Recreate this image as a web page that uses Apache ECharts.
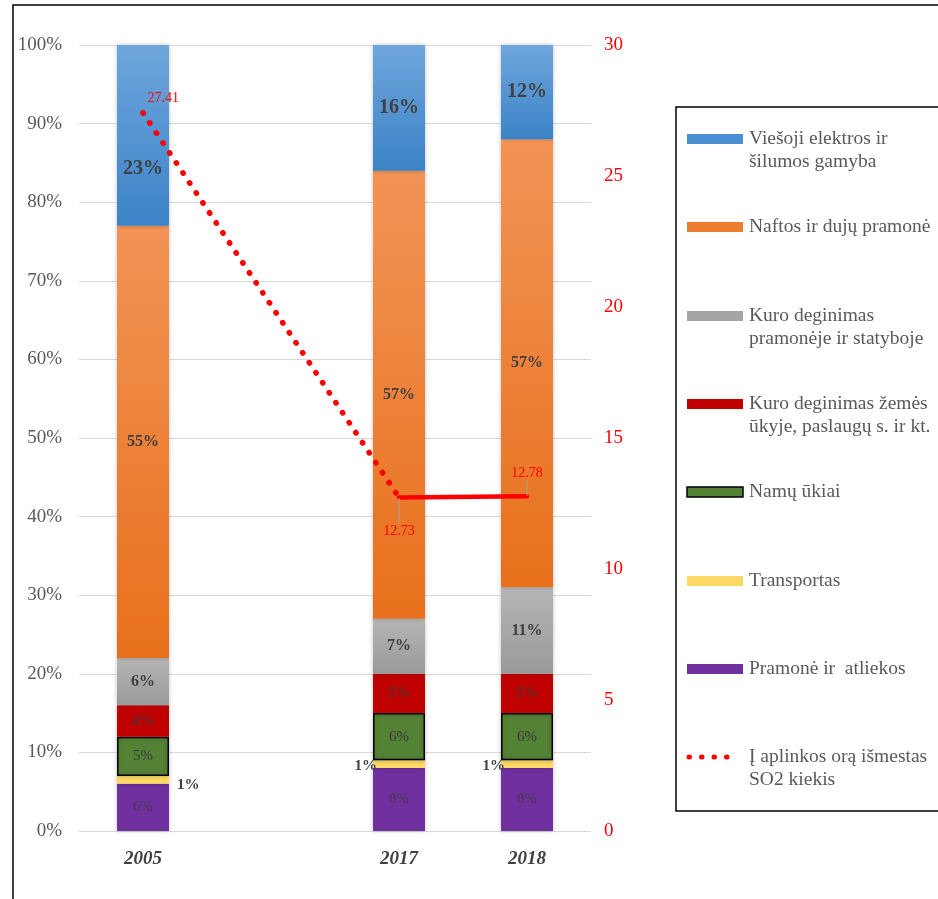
<!DOCTYPE html>
<html>
<head>
<meta charset="utf-8">
<script src="https://cdn.jsdelivr.net/npm/echarts@6/dist/echarts.min.js"></script>
<style>
  html, body { margin: 0; padding: 0; background: #ffffff; }
  #chart { width: 938px; height: 899px; }
</style>
</head>
<body>
<div id="chart"></div>
<script>
// Years on the category axis (an empty slot keeps the gap between 2005 and 2017)
const categories = ['2005', '', '2017', '2018'];

// Shares of SO2 emissions by sector, % (bottom of the stack first)
const pramoneAtliekos = [6, null, 8, 8];
const transportas     = [1, null, 1, 1];
const namuUkiai       = [5, null, 6, 6];
const kuroZemesUkyje  = [4, null, 5, 5];
const kuroPramoneje   = [6, null, 7, 11];
const naftosDuju      = [55, null, 57, 57];
const viesojiElektros = [23, null, 16, 12];

// Total SO2 emitted into ambient air (right axis)
const so2Kiekis = [27.41, null, 12.73, 12.78];

const sectorNames = [
  'Pramonė ir  atliekos',
  'Transportas',
  'Namų ūkiai',
  'Kuro deginimas žemės ūkyje, paslaugų s. ir kt.',
  'Kuro deginimas pramonėje ir statyboje',
  'Naftos ir dujų pramonė',
  'Viešoji elektros ir šilumos gamyba'
];
const so2Name = 'Į aplinkos orą išmestas SO2 kiekis';

// Legend captions, top to bottom, as they wrap in the box
const legendCaptions = [
  'Viešoji elektros ir\nšilumos gamyba',
  'Naftos ir dujų pramonė',
  'Kuro deginimas\npramonėje ir statyboje',
  'Kuro deginimas žemės\nūkyje, paslaugų s. ir kt.',
  'Namų ūkiai',
  'Transportas',
  'Pramonė ir  atliekos',
  'Į aplinkos orą išmestas\nSO2 kiekis'
];

const serif = '"Liberation Serif", "DejaVu Serif", serif';
const labelDark = '#404040';

function vgrad(top, bottom) {
  return new echarts.graphic.LinearGradient(0, 0, 0, 1, [
    { offset: 0, color: top }, { offset: 1, color: bottom }
  ]);
}

const sectorStyles = [
  { fill: '#7030a0', label: { fontSize: 15, fontWeight: 'normal', color: '#4a3a55' } },
  { fill: '#ffd966', label: { fontSize: 15, fontWeight: 'bold', color: labelDark } },
  { fill: '#548235', border: '#000000', label: { fontSize: 15, fontWeight: 'normal', color: '#3a3a3a' } },
  { fill: '#c00000', label: { fontSize: 15, fontWeight: 'bold', color: '#5a2a2a' } },
  { fill: vgrad('#b5b5b5', '#9a9a9a'), label: { fontSize: 16, fontWeight: 'bold', color: labelDark } },
  { fill: vgrad('#f29456', '#e8701c'), label: { fontSize: 16, fontWeight: 'bold', color: labelDark } },
  { fill: vgrad('#6fa6dc', '#3b83c7'), label: { fontSize: 20, fontWeight: 'bold', color: labelDark } }
];
// Legend swatches, top to bottom
const legendColors = ['#4a8fd2', '#ed7d31', '#a5a5a5', '#c00000', '#548235', '#ffd966', '#7030a0'];

const sectorData = [pramoneAtliekos, transportas, namuUkiai, kuroZemesUkyje, kuroPramoneje, naftosDuju, viesojiElektros];

const barSeries = sectorData.map((values, s) => {
  const st = sectorStyles[s];
  const data = values.map((v, i) => {
    if (v === null) return null;
    const item = { value: v };
    if (s === 1) {
      // the thin transport slice is labelled beside the bar
      item.label = i === 0
        ? { position: 'right', distance: 8, offset: [0, 5] }
        : { position: 'left', distance: -4, offset: [0, 2] };
    }
    if (s === 6 && i === 0) {
      item.label = { offset: [0, 33] };
    }
    return item;
  });
  return {
    name: sectorNames[s],
    type: 'bar',
    stack: 'shares',
    barWidth: 52,
    data: data,
    itemStyle: {
      color: st.fill,
      borderColor: st.border || 'transparent',
      borderWidth: st.border ? 1.5 : 0,
      shadowBlur: 4,
      shadowColor: 'rgba(0,0,0,0.25)',
      shadowOffsetX: 0
    },
    label: {
      show: true,
      position: 'inside',
      formatter: '{c}%',
      fontFamily: serif,
      fontSize: st.label.fontSize,
      fontWeight: st.label.fontWeight,
      color: st.label.color
    },
    emphasis: { disabled: true },
    z: 2
  };
});

const lineLabelBase = {
  show: true,
  fontFamily: serif,
  fontSize: 14,
  color: '#ff0000'
};

const dottedSeries = {
  name: so2Name,
  type: 'line',
  yAxisIndex: 1,
  data: so2Kiekis.map((v, i) => (i <= 2 ? v : null)),
  connectNulls: true,
  symbol: 'circle',
  symbolSize: 1,
  itemStyle: { color: '#ff0000' },
  lineStyle: { color: '#ff0000', width: 5.5, type: [0.5, 11.5], cap: 'round' },
  label: Object.assign({}, lineLabelBase, {
    position: 'right',
    distance: 4,
    offset: [0, -15],
    formatter: (p) => (p.dataIndex === 0 ? p.value : '')
  }),
  emphasis: { disabled: true },
  z: 5
};

const solidSeries = {
  name: so2Name + ' ',
  type: 'line',
  yAxisIndex: 1,
  data: so2Kiekis.map((v, i) => (i >= 2 ? v : null)),
  smooth: true,
  symbol: 'circle',
  symbolSize: 1,
  itemStyle: { color: '#ff0000' },
  lineStyle: { color: '#ff0000', width: 4.5, cap: 'round' },
  label: Object.assign({}, lineLabelBase, {
    formatter: (p) => p.value.toFixed(2),
    position: 'top'
  }),
  labelLayout: (p) => (p.dataIndex === 2 ? { dy: 46 } : { dy: -10 }),
  labelLine: { show: true, lineStyle: { color: '#a6a6a6', width: 1 } },
  emphasis: { disabled: true },
  z: 5
};

// Legend box drawn at the right, icons keyed to the sector colours
const legendTop = 139, legendStep = 88.3, iconX = 687, textX = 749;
const legendGraphics = [
  {
    type: 'rect',
    shape: { x: 676, y: 107, width: 300, height: 704 },
    style: { fill: 'none', stroke: '#000000', lineWidth: 1.5 },
    z: 10
  }
];
legendCaptions.forEach((cap, k) => {
  const cy = Math.round(legendTop + k * legendStep);
  if (k < 7) {
    legendGraphics.push({
      type: 'rect',
      shape: { x: iconX, y: cy - 5, width: 56, height: 10 },
      style: {
        fill: legendColors[k],
        stroke: k === 4 ? '#000000' : null,
        lineWidth: k === 4 ? 1.5 : 0
      },
      z: 10
    });
  } else {
    legendGraphics.push({
      type: 'line',
      shape: { x1: iconX + 2, y1: cy, x2: iconX + 52, y2: cy },
      style: { stroke: '#ff0000', lineWidth: 5, lineDash: [0.5, 12], lineCap: 'round' },
      z: 10
    });
  }
  legendGraphics.push({
    type: 'text',
    x: textX,
    y: cy - 12,
    style: {
      text: cap,
      fontFamily: serif,
      fontSize: 19.5,
      lineHeight: 23,
      fill: '#595959',
      textVerticalAlign: 'top'
    },
    z: 10
  });
});

const chart = echarts.init(document.getElementById('chart'), null, { renderer: 'canvas' });
chart.setOption({
  backgroundColor: '#ffffff',
  animation: false,
  grid: { left: 79, right: 347, top: 45, bottom: 68, containLabel: false },
  xAxis: {
    type: 'category',
    data: categories,
    axisLine: { show: false },
    axisTick: { show: false },
    axisLabel: {
      margin: 19,
      fontFamily: serif,
      fontSize: 19,
      fontWeight: 'bold',
      fontStyle: 'italic',
      color: labelDark
    }
  },
  yAxis: [
    {
      type: 'value',
      min: 0, max: 100, interval: 10,
      axisLine: { show: false },
      axisTick: { show: false },
      splitLine: { lineStyle: { color: '#d9d9d9', width: 1.2 } },
      axisLabel: {
        formatter: '{value}%',
        margin: 17,
        fontFamily: serif,
        fontSize: 19,
        color: '#595959'
      }
    },
    {
      type: 'value',
      min: 0, max: 30, interval: 5,
      position: 'right',
      axisLine: { show: false },
      axisTick: { show: false },
      splitLine: { show: false },
      axisLabel: {
        margin: 13,
        fontFamily: serif,
        fontSize: 19,
        color: '#ff0000'
      }
    }
  ],
  graphic: [
    {
      type: 'rect',
      shape: { x: 13, y: 5, width: 1000, height: 1000 },
      style: { fill: 'none', stroke: '#000000', lineWidth: 1.5 },
      z: 0, silent: true
    }
  ].concat(legendGraphics),
  series: barSeries.concat([dottedSeries, solidSeries])
});
</script>
</body>
</html>
